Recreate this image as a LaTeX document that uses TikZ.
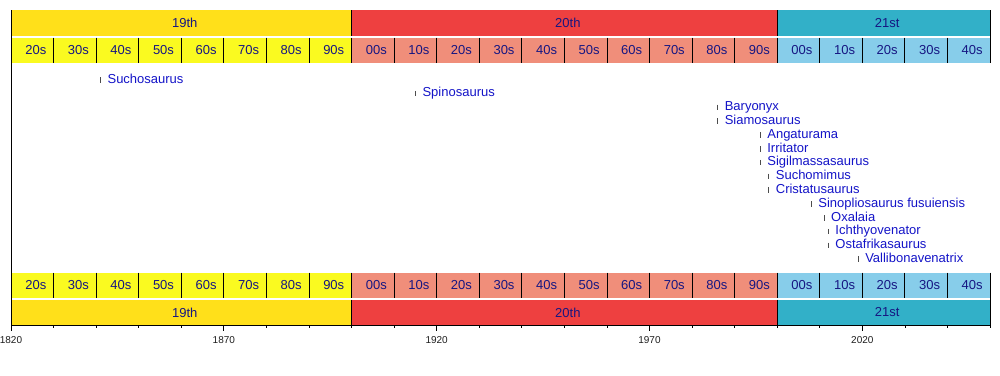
\documentclass[tikz,border=0pt]{standalone}
\usepackage{fontspec}
\setmainfont{Liberation Sans}
\definecolor{cA}{RGB}{255,224,26}
\definecolor{dA}{RGB}{250,250,32}
\definecolor{cB}{RGB}{238,64,64}
\definecolor{dB}{RGB}{240,142,122}
\definecolor{cC}{RGB}{50,176,200}
\definecolor{dC}{RGB}{135,205,234}
\definecolor{lab}{RGB}{22,22,130}
\definecolor{evc}{RGB}{20,20,200}
\definecolor{axc}{RGB}{30,30,30}
\begin{document}
\begin{tikzpicture}[x=1pt,y=-1pt,
  bandtext/.style={text=lab,font=\fontsize{13}{15}\selectfont,inner sep=0pt},
  evtext/.style={text=evc,font=\fontsize{13}{15}\selectfont,inner sep=0pt,anchor=base west},
  yeartext/.style={text=axc,font=\fontsize{10}{11}\selectfont,inner sep=0pt},
  divider/.style={draw=black,line width=0.8pt},
  evtick/.style={draw=black!70,line width=0.9pt}]
\useasboundingbox (0,0) rectangle (1000,375);
\fill[white] (0,0) rectangle (1000,375);
% century bands
\foreach \s/\e/\c/\t/\n in {1820/1900/cA/19th/a,1900/2000/cB/20th/b,2000/2050/cC/21st/c}{
  \fill[\c] ({11+(\s-1820)*4.2565},10) rectangle ({11+(\e-1820)*4.2565},35.5);
  \fill[\c] ({11+(\s-1820)*4.2565},299.5) rectangle ({11+(\e-1820)*4.2565},325);
  \node[bandtext] (ct\n) at ({11+((\s+\e)/2-1820)*4.2565+3.5},23) {\t};
  \node[bandtext] (cb\n) at ({11+((\s+\e)/2-1820)*4.2565+3.5},312.5) {\t};
}
% decade bands
\foreach \y/\t/\c in {1820/20s/dA,1830/30s/dA,1840/40s/dA,1850/50s/dA,1860/60s/dA,1870/70s/dA,1880/80s/dA,1890/90s/dA,
  1900/00s/dB,1910/10s/dB,1920/20s/dB,1930/30s/dB,1940/40s/dB,1950/50s/dB,1960/60s/dB,1970/70s/dB,1980/80s/dB,1990/90s/dB,
  2000/00s/dC,2010/10s/dC,2020/20s/dC,2030/30s/dC,2040/40s/dC}{
  \fill[\c] ({11+(\y-1820)*4.2565},37.5) rectangle ({11+(\y+10-1820)*4.2565},63);
  \fill[\c] ({11+(\y-1820)*4.2565},272.5) rectangle ({11+(\y+10-1820)*4.2565},298);
  \node[bandtext] (dt\y) at ({11+(\y+5-1820)*4.2565+3.5},50.5) {\t};
  \node[bandtext] (db\y) at ({11+(\y+5-1820)*4.2565+3.5},285.5) {\t};
}
% dividers between decades
\foreach \y in {1830,1840,...,2040}{
  \draw[divider] ({11+(\y-1820)*4.2565},37.5) -- ({11+(\y-1820)*4.2565},63);
  \draw[divider] ({11+(\y-1820)*4.2565},272.5) -- ({11+(\y-1820)*4.2565},298);
}
\foreach \y in {1900,2000}{
  \draw[black,line width=0.5pt] ({11+(\y-1820)*4.2565},10) -- ({11+(\y-1820)*4.2565},35.5);
  \draw[black,line width=0.5pt] ({11+(\y-1820)*4.2565},299.5) -- ({11+(\y-1820)*4.2565},325);
}
% frame lines
\draw[black,line width=0.9pt] (11,10) -- (11,331);
\draw[black,line width=0.8pt] (990,10) -- (990,63);
\draw[black,line width=0.8pt] (990,272.5) -- (990,328);
\draw[black,line width=0.8pt] (11,325) -- (990,325);
% axis ticks
\foreach \y in {1830,1840,1850,1860,1880,1890,1900,1910,1930,1940,1950,1960,1980,1990,2000,2010,2030,2040}{
  \draw[black,line width=0.7pt] ({11+(\y-1820)*4.2565},325) -- ({11+(\y-1820)*4.2565},328);
}
\foreach \y in {1820,1870,1920,1970,2020}{
  \draw[black,line width=0.8pt] ({11+(\y-1820)*4.2565},325) -- ({11+(\y-1820)*4.2565},331);
  \node[yeartext] (yr\y) at ({11+(\y-1820)*4.2565},340) {\y};
}
% events
\foreach \y/\r/\t [count=\i] in {1841/0/Suchosaurus,1915/1/Spinosaurus,1986/2/Baryonyx,1986/3/Siamosaurus,
  1996/4/Angaturama,1996/5/Irritator,1996/6/Sigilmassasaurus,1998/7/Suchomimus,1998/8/Cristatusaurus,
  2008/9/Sinopliosaurus fusuiensis,2011/10/Oxalaia,2012/11/Ichthyovenator,2012/12/Ostafrikasaurus,2019/13/Vallibonavenatrix}{
  \coordinate (t\i) at ({11+(\y-1820)*4.2565},{78.5+13.8*\r});
  \draw[evtick] ([yshift=1.5pt]t\i) -- ([yshift=-4pt]t\i);
  \node[evtext] (e\i) at ([xshift=7pt,yshift=-4.5pt]t\i) {\t};
}
\end{tikzpicture}
\end{document}
